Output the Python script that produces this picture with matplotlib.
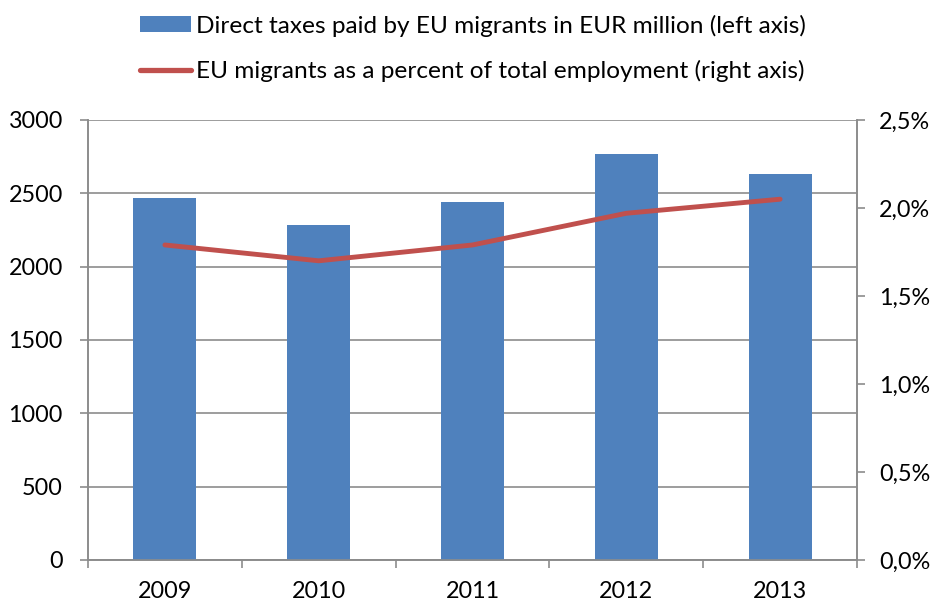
import matplotlib.pyplot as plt
import numpy as np
from matplotlib.patches import Patch
from matplotlib.lines import Line2D
from matplotlib.ticker import FuncFormatter

plt.rcParams['font.family'] = ['Lato', 'DejaVu Sans']

years = ['2009', '2010', '2011', '2012', '2013']
taxes = [2468, 2282, 2441, 2768, 2630]          # EUR million, left axis
share = [1.79, 1.70, 1.79, 1.97, 2.05]          # percent, right axis

bar_color = '#4F81BD'
line_color = '#C0504D'
grid_color = '#8C8C8C'

fig = plt.figure(figsize=(9.36, 6.08), dpi=100)
ax = fig.add_axes([88 / 936, 48 / 608, (857 - 88) / 936, 440 / 608])
ax2 = ax.twinx()

x = np.arange(len(years))
ax.bar(x, taxes, width=0.41, color=bar_color, zorder=3)
ax2.plot(x, share, color=line_color, linewidth=3.5, solid_capstyle='round', zorder=4)

ax.set_xlim(-0.5, len(years) - 0.5)
ax.set_ylim(0, 3000)
ax.set_yticks(np.arange(0, 3001, 500))
ax2.set_ylim(0, 2.5)
ax2.set_yticks(np.arange(0, 2.51, 0.5))
ax2.yaxis.set_major_formatter(FuncFormatter(lambda v, p: f'{v:.1f}%'.replace('.', ',')))

ax.yaxis.grid(True, color=grid_color, linewidth=1.2, zorder=0)
ax.set_axisbelow(True)

# category labels centred, tick marks on the boundaries
ax.set_xticks(x)
ax.set_xticklabels(years)
ax.set_xticks(np.arange(-0.5, len(years)), minor=True)
ax.tick_params(axis='x', which='major', length=0, pad=15, labelsize=16.8)
ax.tick_params(axis='x', which='minor', length=6, width=1.2, color=grid_color)
ax.tick_params(axis='y', length=6, width=1.2, color=grid_color, pad=12, labelsize=16.8)
ax2.tick_params(axis='y', length=6, width=1.2, color=grid_color, pad=10, labelsize=16.8)

for a in (ax, ax2):
    a.spines['top'].set_visible(False)
    for s in ('left', 'right', 'bottom'):
        a.spines[s].set_color(grid_color)
        a.spines[s].set_linewidth(1.2)

handles = [
    Patch(facecolor=bar_color, edgecolor='none'),
    Line2D([0], [0], color=line_color, linewidth=3.8, solid_capstyle='round'),
]
labels = [
    'Direct taxes paid by EU migrants in EUR million (left axis)',
    'EU migrants as a percent of total employment (right axis)',
]
fig.legend(handles, labels, loc='upper center', bbox_to_anchor=(0.505, 1.0),
           frameon=False, fontsize=17.6, ncol=1, handlelength=2.1, handleheight=0.6,
           handletextpad=0.2, labelspacing=0.95, borderaxespad=0.2)

fig.savefig('out.png', dpi=100)
